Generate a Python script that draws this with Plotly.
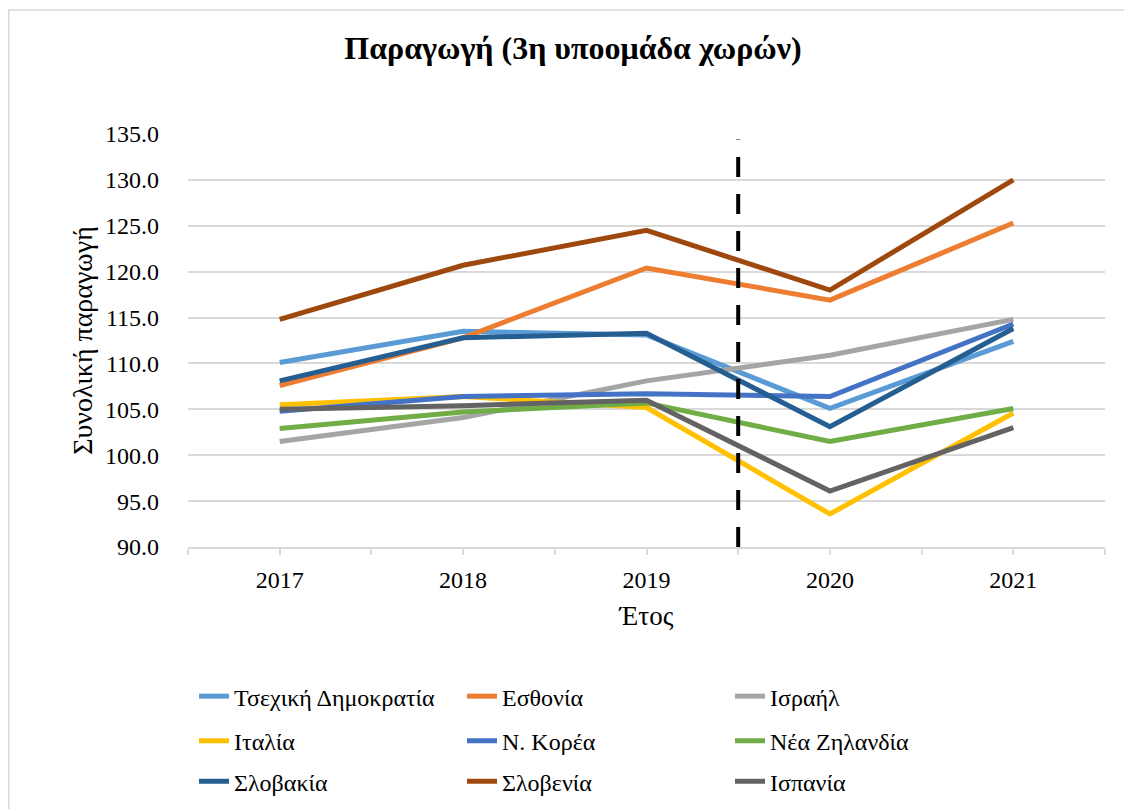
import plotly.graph_objects as go

years = [2017, 2018, 2019, 2020, 2021]
countries = ["Τσεχική Δημοκρατία", "Εσθονία", "Ισραήλ",
             "Ιταλία", "Ν. Κορέα", "Νέα Ζηλανδία",
             "Σλοβακία", "Σλοβενία", "Ισπανία"]

czech = [110.1, 113.5, 113.1, 105.1, 112.4]
estonia = [107.6, 112.8, 120.4, 116.9, 125.3]
israel = [101.5, 104.1, 108.1, 110.9, 114.8]
italy = [105.5, 106.4, 105.2, 93.6, 104.6]
korea = [104.8, 106.4, 106.7, 106.4, 114.3]
new_zealand = [102.9, 104.7, 105.7, 101.5, 105.1]
slovakia = [108.1, 112.8, 113.3, 103.1, 113.8]
slovenia = [114.8, 120.7, 124.5, 118.0, 130.0]
spain = [105.0, 105.4, 106.0, 96.1, 103.0]

series = [czech, estonia, israel, italy, korea, new_zealand, slovakia, slovenia, spain]
colors = ["#5B9BD5", "#ED7D31", "#A5A5A5", "#FFC000", "#4472C4",
          "#70AD47", "#255E91", "#9E480E", "#636363"]
legend_rows = ["legend", "legend", "legend", "legend2", "legend2", "legend2",
               "legend3", "legend3", "legend3"]

y_ticks = [90, 95, 100, 105, 110, 115, 120, 125, 130, 135]
break_year = 2019.5

FONT = "Liberation Serif"
W, H = 1132, 809
OFF = 8  # page body margin
ML, MR, MT, MB = 180, 35, 126, 266
PW, PH = W - ML - MR, H - MT - MB


def sx(xpix):
    return (xpix - OFF - ML) / PW


def sy(ypix):
    return (H - MB - (ypix - OFF)) / PH


fig = go.Figure()
for name, vals, col, lg in zip(countries, series, colors, legend_rows):
    fig.add_trace(go.Scatter(x=years, y=vals, name=name, mode="lines",
                             line=dict(color=col, width=5), legend=lg))

xtickvals = []
xticktext = []
for yr in years:
    xtickvals += [yr - 0.5, yr]
    xticktext += ["", str(yr)]
xtickvals.append(years[-1] + 0.5)
xticktext.append("")

legend_common = dict(orientation="h", font=dict(family=FONT, size=24, color="#000000"),
                     entrywidth=223, entrywidthmode="pixels", xanchor="left",
                     yanchor="middle", x=sx(194), bgcolor="rgba(0,0,0,0)")

fig.update_layout(
    width=W, height=H,
    margin=dict(l=ML, r=MR, t=MT, b=MB),
    paper_bgcolor="white", plot_bgcolor="white",
    font=dict(family=FONT, color="#000000"),
    title=dict(text="<b>Παραγωγή (3η υποομάδα χωρών)</b>", x=565 / W, xanchor="center",
               y=1 - 40 / H, yanchor="middle", yref="container",
               font=dict(family=FONT, size=32, color="#000000")),
    xaxis=dict(range=[years[0] - 0.5, years[-1] + 0.5], tickmode="array",
               tickvals=xtickvals, ticktext=xticktext, showgrid=False, zeroline=False,
               showline=True, linecolor="#D9D9D9", linewidth=1.5,
               ticks="outside", ticklen=6, tickcolor="#D9D9D9", tickwidth=1.5,
               ticklabelstandoff=4,
               tickfont=dict(family=FONT, size=24, color="#000000"),
               title=dict(text="Έτος", standoff=15, font=dict(family=FONT, size=27, color="#000000"))),
    yaxis=dict(range=[90, 135], tickmode="array", tickvals=y_ticks,
               ticktext=[f"{v:.1f}" for v in y_ticks], showgrid=True,
               gridcolor="#D9D9D9", gridwidth=1.5, zeroline=False, showline=False,
               ticks="", ticklabelstandoff=28,
               tickfont=dict(family=FONT, size=24, color="#000000"),
               title=dict(text="Συνολική παραγωγή", standoff=4,
                          font=dict(family=FONT, size=28, color="#000000"))),
    legend=dict(legend_common, y=sy(702)),
    legend2=dict(legend_common, y=sy(747)),
    legend3=dict(legend_common, y=sy(788)),
    shapes=[
        dict(type="line", xref="x", yref="y", x0=break_year, x1=break_year,
             y0=90, y1=134.4, line=dict(color="black", width=4, dash="20px,17px")),
        dict(type="rect", xref="paper", yref="paper", x0=sx(8.75), x1=sx(1145),
             y0=sy(830), y1=sy(8.75), line=dict(color="#D9D9D9", width=1.5),
             fillcolor="rgba(0,0,0,0)", layer="below"),
    ],
)

fig.write_html("out.html")
